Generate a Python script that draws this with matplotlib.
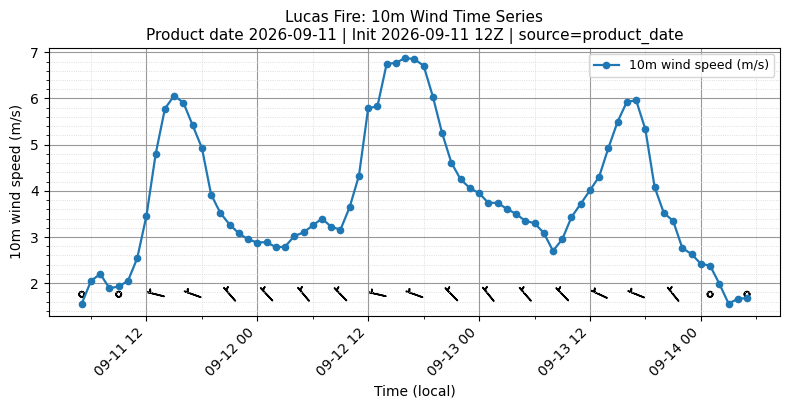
import numpy as np
import pandas as pd
import matplotlib
matplotlib.use("Agg")
import matplotlib.pyplot as plt
import matplotlib.dates as mdates
from matplotlib.ticker import AutoMinorLocator

# hourly 10m wind speed, local time
times = pd.date_range("2026-09-11 05:00", "2026-09-14 05:00", freq="h")
speed = [
    1.56, 2.05, 2.20, 1.89, 1.93, 2.05, 2.54, 3.46, 4.80, 5.78, 6.06, 5.91,
    5.42, 4.93, 3.92, 3.52, 3.27, 3.08, 2.95,
    2.88, 2.89, 2.78, 2.79, 3.02, 3.10, 3.25, 3.40, 3.22, 3.16, 3.65, 4.33,
    5.79, 5.83, 6.75, 6.77, 6.88, 6.85, 6.71, 6.04, 5.25, 4.61, 4.25, 4.06,
    3.95, 3.74, 3.74, 3.61, 3.50, 3.35, 3.30, 3.09, 2.70, 2.95, 3.43, 3.72,
    4.01, 4.31, 4.93, 5.50, 5.93, 5.96, 5.33, 4.08, 3.52, 3.35, 2.76, 2.63,
    2.42, 2.38, 1.99, 1.56, 1.66, 1.68,
]
# wind direction (deg, from) every 4 hours starting 09-11 05:00
barb_dir = [300, 300, 284, 290, 319, 317, 320, 316, 283, 290, 316, 321,
            319, 316, 295, 292, 321, 320, 320]

speed = np.array(speed)
bt = times[::4]
bs = speed[::4]
rad = np.deg2rad(barb_dir)
u = -bs * np.sin(rad)
v = -bs * np.cos(rad)

fig = plt.figure(figsize=(7.9, 4.09), dpi=100)
ax = fig.add_axes([0.0614, 0.2281, 0.9263, 0.6553])

ax.plot(times, speed, marker="o", markersize=4.5, linewidth=1.6,
        color="#1f77b4", label="10m wind speed (m/s)")
ax.margins(x=0.05, y=0.05)
ax.set_ylim(1.296, 7.1)

by = np.full(len(bt), speed.min() + 0.2)
ax.barbs(mdates.date2num(bt), by, u, v, length=5, pivot="middle",
         linewidth=1.2, color="black")

ax.xaxis.set_major_locator(mdates.HourLocator(byhour=[0, 12]))
ax.xaxis.set_minor_locator(mdates.HourLocator(byhour=[6, 18]))
ax.xaxis.set_major_formatter(mdates.DateFormatter("%m-%d %H"))
ax.yaxis.set_minor_locator(AutoMinorLocator(5))
plt.setp(ax.get_xticklabels(), rotation=45, ha="right")

ax.grid(True, which="major", color="#999999", linewidth=0.8)
ax.grid(True, which="minor", color="#d5d5d5", linestyle=":", linewidth=0.6)

ax.set_xlabel("Time (local)")
ax.set_ylabel("10m wind speed (m/s)")
ax.set_title("Lucas Fire: 10m Wind Time Series\n"
             "Product date 2026-09-11 | Init 2026-09-11 12Z | source=product_date",
             fontsize=11)
ax.legend(loc="upper right", fontsize=9)

fig.savefig("out.png", dpi=100)
